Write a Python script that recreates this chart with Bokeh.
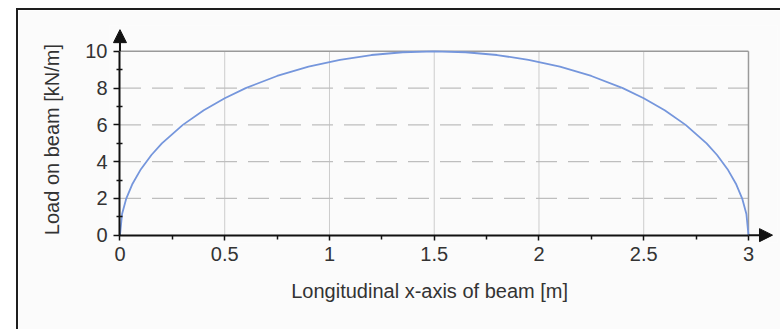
from bokeh.plotting import figure
from bokeh.models import Range1d, FixedTicker, Arrow, NormalHead, LinearAxis
from bokeh.embed import file_html
from bokeh.resources import INLINE

# ---- data ----
beam_x = [0.0, 0.01, 0.03, 0.06, 0.10, 0.15, 0.20, 0.30, 0.40, 0.50, 0.60, 0.75, 0.90,
          1.05, 1.20, 1.35, 1.50, 1.65, 1.80, 1.95, 2.10, 2.25, 2.40, 2.50, 2.60,
          2.70, 2.80, 2.85, 2.90, 2.94, 2.97, 2.99, 3.0]
load_y = [0.0, 1.15, 1.99, 2.80, 3.59, 4.36, 4.99, 6.00, 6.80, 7.45, 8.00, 8.66, 9.17,
          9.54, 9.80, 9.95, 10.0, 9.95, 9.80, 9.54, 9.17, 8.66, 8.00, 7.45, 6.80,
          6.00, 4.99, 4.36, 3.59, 2.80, 1.99, 1.15, 0.0]

x_ticks = [0, 0.5, 1, 1.5, 2, 2.5, 3]
x_tick_labels = ["0", "0.5", "1", "1.5", "2", "2.5", "3"]
x_minor = [0.25, 0.75, 1.25, 1.75, 2.25, 2.75]
y_ticks = [0, 2, 4, 6, 8, 10]
y_tick_labels = ["0", "2", "4", "6", "8", "10"]
y_minor = [1, 3, 5, 7, 9]
x_axis_end = 3.1146
y_axis_end = 11.18

FONT = "Liberation Sans"
BG = "#fbfbfb"
AX = "#111111"
TXT = "#333333"

p = figure(frame_width=668, frame_height=217, output_backend="svg", toolbar_location=None,
           x_range=Range1d(-0.05, 3.1385), y_range=Range1d(-0.4, 11.406),
           min_border_left=91, min_border_right=3, min_border_top=15, min_border_bottom=87,
           background_fill_color=BG, border_fill_color=BG, outline_line_color=None)
p.margin = (8, 0, 0, 16)
p.styles = {"border-top": "2px solid #1e1e1e", "border-left": "2px solid #1e1e1e"}
p.xgrid.visible = False
p.ygrid.visible = False

# grid lines built from tick arrays
y_top = y_ticks[-1]
x_right = x_ticks[-1]
n_vx = len(x_ticks) - 2
n_hy = len(y_ticks) - 2
p.segment(x0=x_ticks[1:-1], y0=[0] * n_vx, x1=x_ticks[1:-1], y1=[y_top] * n_vx,
          line_color="#cccccc", line_width=1)
p.segment(x0=[0] * n_hy, y0=y_ticks[1:-1], x1=[x_right] * n_hy, y1=y_ticks[1:-1],
          line_color="#bebebe", line_width=1.3, line_dash="21 11")
# frame top and right
p.segment(x0=[0, x_right], y0=[y_top, 0], x1=[x_right, x_right], y1=[y_top, y_top],
          line_color="#9a9a9a", line_width=1.5)

# curve
p.line(beam_x, load_y, line_color="#7596dc", line_width=1.8)

# ---- label axes at the frame edges (text only) ----
xa = p.xaxis[0]
ya = p.yaxis[0]
for ax in (xa, ya):
    ax.axis_line_color = None
    ax.major_tick_line_color = None
    ax.minor_tick_line_color = None
    ax.major_tick_in = 0
    ax.major_tick_out = 0
    ax.minor_tick_in = 0
    ax.minor_tick_out = 0
    ax.major_label_text_font = FONT
    ax.major_label_text_font_size = "20px"
    ax.major_label_text_color = TXT
    ax.axis_label_text_font = FONT
    ax.axis_label_text_font_size = "20px"
    ax.axis_label_text_font_style = "normal"
    ax.axis_label_text_color = TXT

xa.ticker = FixedTicker(ticks=x_ticks, minor_ticks=[])
xa.major_label_overrides = {float(t): l for t, l in zip(x_ticks, x_tick_labels)}
xa.major_label_standoff = 4
xa.axis_label = "Longitudinal x-axis of beam [m]" + "\u00a0" * 5
xa.axis_label_standoff = 16

ya.ticker = FixedTicker(ticks=y_ticks, minor_ticks=[])
ya.major_label_overrides = {float(t): l for t, l in zip(y_ticks, y_tick_labels)}
ya.major_label_standoff = 2
ya.axis_label = "Load on beam [kN/m]" + "\u00a0" * 2
ya.axis_label_standoff = 19

# ---- axis lines and ticks through the origin ----
x0_axis = LinearAxis(fixed_location=0, ticker=FixedTicker(ticks=x_ticks, minor_ticks=x_minor),
                     bounds=(x_ticks[0], x_ticks[-1]),
                     major_label_overrides={float(t): "" for t in x_ticks},
                     major_label_text_font_size="1px",
                     axis_line_color=AX, axis_line_width=2,
                     major_tick_line_color=AX, minor_tick_line_color=AX,
                     major_tick_line_width=1.5, minor_tick_line_width=1.5,
                     major_tick_in=0, major_tick_out=5, minor_tick_in=0, minor_tick_out=4)
y0_axis = LinearAxis(fixed_location=0, ticker=FixedTicker(ticks=y_ticks, minor_ticks=y_minor),
                     bounds=(y_ticks[0], y_ticks[-1]),
                     major_label_overrides={float(t): "" for t in y_ticks},
                     major_label_text_font_size="1px",
                     axis_line_color=AX, axis_line_width=2,
                     major_tick_line_color=AX, minor_tick_line_color=AX,
                     major_tick_line_width=1.5, minor_tick_line_width=1.5,
                     major_tick_in=0, major_tick_out=6, minor_tick_in=3, minor_tick_out=3)
p.add_layout(x0_axis, "below")
p.add_layout(y0_axis, "left")

# axis arrows
p.add_layout(Arrow(end=NormalHead(size=13, fill_color=AX, line_color=AX),
                   x_start=x_ticks[-1], y_start=0, x_end=x_axis_end, y_end=0,
                   line_color=AX, line_width=2))
p.add_layout(Arrow(end=NormalHead(size=13, fill_color=AX, line_color=AX),
                   x_start=0, y_start=y_ticks[-1], x_end=0, y_end=y_axis_end,
                   line_color=AX, line_width=2))

open("out.html", "w").write(file_html(p, INLINE))
